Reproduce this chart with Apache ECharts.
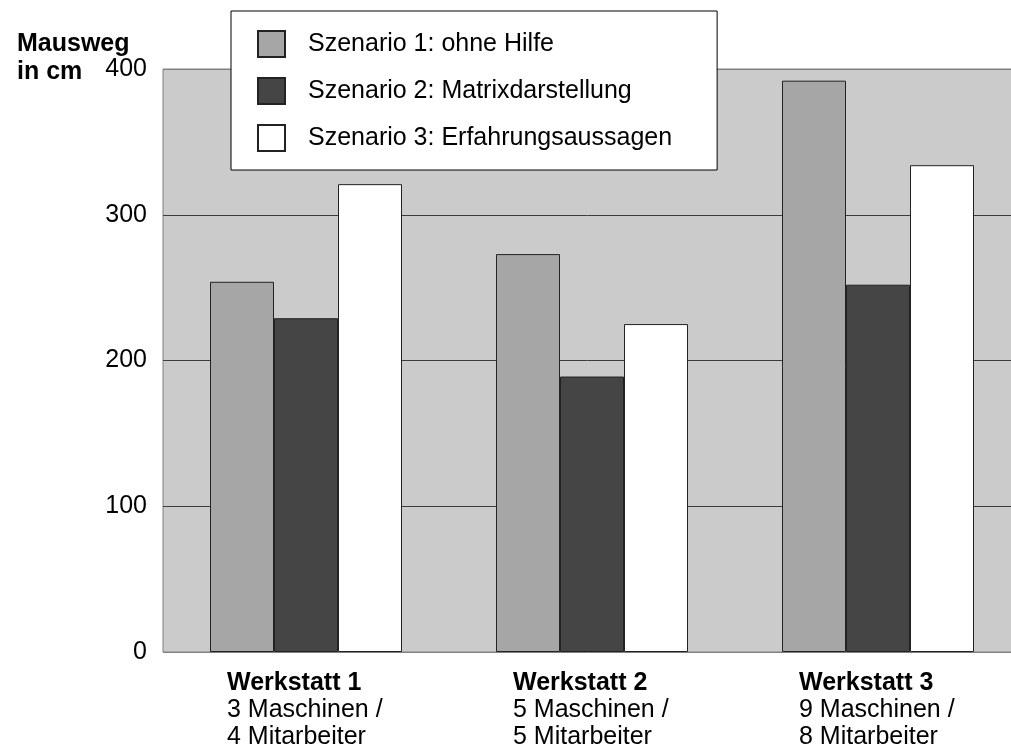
<!DOCTYPE html>
<html>
<head>
<meta charset="utf-8">
<script src="https://cdn.jsdelivr.net/npm/echarts@6/dist/echarts.min.js"></script>
<style>
  html, body { margin: 0; padding: 0; background: #fff; }
  #chart { width: 1011px; height: 753px; }
</style>
</head>
<body>
<div id="chart"></div>
<script>
const FONT = "'Liberation Sans', Arial, sans-serif";

const categories = ["Werkstatt 1", "Werkstatt 2", "Werkstatt 3"];
const machines = ["3 Maschinen /", "5 Maschinen /", "9 Maschinen /"];
const workers = ["4 Mitarbeiter", "5 Mitarbeiter", "8 Mitarbeiter"];

const seriesNames = [
  "Szenario 1: ohne Hilfe",
  "Szenario 2: Matrixdarstellung",
  "Szenario 3: Erfahrungsaussagen",
];
const ohneHilfe = [254, 273, 392];
const matrix = [229, 189, 252];
const erfahrung = [321, 225, 334];

const yTicks = [0, 100, 200, 300, 400];

const colors = ["#a6a6a6", "#454545", "#ffffff"];
const values = [ohneHilfe, matrix, erfahrung];

const myChart = echarts.init(document.getElementById("chart"));

myChart.setOption({
  animation: false,
  textStyle: { fontFamily: FONT },
  title: {
    text: "Mausweg\nin cm",
    left: 12,
    top: 25,
    textStyle: {
      fontFamily: FONT,
      fontSize: 25,
      fontWeight: "bold",
      color: "#000",
      lineHeight: 28,
    },
  },
  // plot runs a little past the right edge of the picture
  grid: {
    left: 163,
    width: 858,
    top: 69,
    bottom: 101,
    outerBoundsMode: "none",
    show: true,
    backgroundColor: "#cbcbcb",
    borderColor: "#808080",
    borderWidth: 1,
  },
  legend: {
    orient: "vertical",
    left: 231,
    top: 11,
    padding: [19, 45, 18, 26],
    itemWidth: 27,
    itemHeight: 26,
    itemGap: 19,
    icon: "rect",
    backgroundColor: "#fff",
    borderColor: "#000",
    borderWidth: 1,
    data: seriesNames,
    textStyle: {
      fontFamily: FONT,
      fontSize: 25,
      color: "#000",
      lineHeight: 26,
      padding: [0, 0, 0, 18],
    },
  },
  xAxis: {
    type: "category",
    data: categories,
    axisTick: { show: false },
    axisLine: { show: false },
    axisLabel: {
      margin: 18,
      interval: 0,
      formatter: (value, i) =>
        "{b|" + value + "}\n{n|" + machines[i] + "}\n{n|" + workers[i] + "}",
      rich: {
        b: {
          fontFamily: FONT,
          fontSize: 25,
          fontWeight: "bold",
          color: "#000",
          lineHeight: 27,
          width: 158,
          align: "left",
        },
        n: {
          fontFamily: FONT,
          fontSize: 25,
          color: "#000",
          lineHeight: 27,
          width: 158,
          align: "left",
        },
      },
    },
  },
  yAxis: {
    type: "value",
    min: yTicks[0],
    max: yTicks[yTicks.length - 1],
    interval: 100,
    axisLine: { show: false },
    axisTick: { show: false },
    axisLabel: {
      margin: 16,
      fontFamily: FONT,
      fontSize: 25,
      color: "#000",
    },
    splitLine: {
      show: true,
      lineStyle: {
        color: ["#808080", "#3c3c3c", "#3c3c3c", "#3c3c3c", "#808080"],
        width: 1,
      },
    },
  },
  series: seriesNames.map((name, i) => ({
    name: name,
    type: "bar",
    data: values[i],
    barWidth: 64,
    barGap: "0%",
    itemStyle: {
      color: colors[i],
      borderColor: "#222",
      borderWidth: 1,
    },
  })),
});
</script>
</body>
</html>
